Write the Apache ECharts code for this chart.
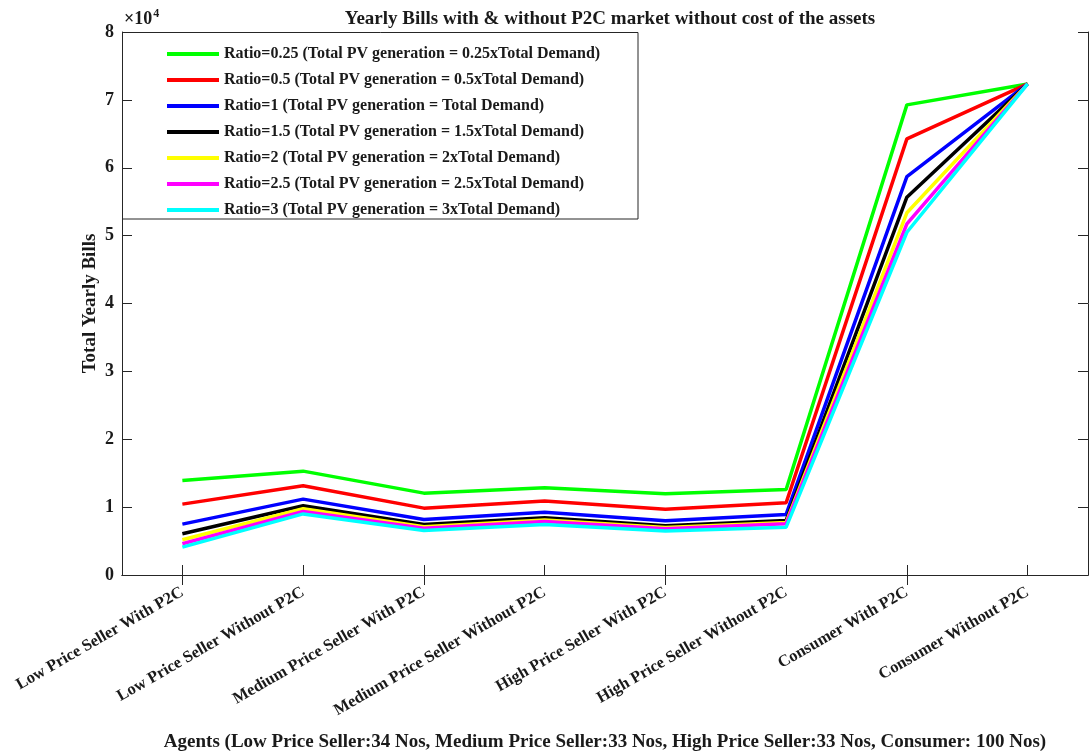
<!DOCTYPE html>
<html>
<head>
<meta charset="utf-8">
<script src="https://cdn.jsdelivr.net/npm/echarts@6/dist/echarts.min.js"></script>
<style>
  html, body { margin: 0; padding: 0; background: #fff; }
  #chart { width: 1089px; height: 751px; }
</style>
</head>
<body>
<div id="chart"></div>
<script>
// Agent categories along the x axis
const categories = [
  'Low Price Seller With P2C',
  'Low Price Seller Without P2C',
  'Medium Price Seller With P2C',
  'Medium Price Seller Without P2C',
  'High Price Seller With P2C',
  'High Price Seller Without P2C',
  'Consumer With P2C',
  'Consumer Without P2C'
];

// Yearly bills per PV-generation ratio
const ratio025 = [13930, 15300, 12060, 12860, 11970, 12600, 69260, 72350];
const ratio05  = [10440, 13150,  9850, 10890,  9700, 10650, 64260, 72350];
const ratio1   = [ 7500, 11180,  8190,  9260,  8000,  8920, 58700, 72350];
const ratio15  = [ 6080, 10200,  7450,  8440,  7260,  8040, 55660, 72350];
const ratio2   = [ 5200,  9760,  7100,  8100,  7000,  7750, 53360, 72350];
const ratio25  = [ 4600,  9370,  6900,  7900,  6800,  7550, 51740, 72350];
const ratio3   = [ 4100,  9000,  6570,  7450,  6470,  7050, 50500, 72350];

const seriesNames = [
  'Ratio=0.25 (Total PV generation = 0.25xTotal Demand)',
  'Ratio=0.5 (Total PV generation = 0.5xTotal Demand)',
  'Ratio=1 (Total PV generation = Total Demand)',
  'Ratio=1.5 (Total PV generation = 1.5xTotal Demand)',
  'Ratio=2 (Total PV generation = 2xTotal Demand)',
  'Ratio=2.5 (Total PV generation = 2.5xTotal Demand)',
  'Ratio=3 (Total PV generation = 3xTotal Demand)'
];
const seriesData = [ratio025, ratio05, ratio1, ratio15, ratio2, ratio25, ratio3];
const seriesColors = ['#00ff00', '#ff0000', '#0000ff', '#000000', '#ffff00', '#ff00ff', '#00ffff'];

// y tick labels (in units of 10^4)
const yTickLabels = ['0', '1', '2', '3', '4', '5', '6', '7', '8'];

const FONT = '"Liberation Serif", "Times New Roman", serif';
const AXIS = '#262626';
const TEXT = '#1a1a1a';

const chart = echarts.init(document.getElementById('chart'), null, { renderer: 'canvas' });

const tickStyle = { show: true, inside: true, length: 10, lineStyle: { color: AXIS, width: 1 } };
const lineStyleAxis = { show: true, lineStyle: { color: AXIS, width: 1 } };

chart.setOption({
  animation: false,
  backgroundColor: '#ffffff',
  title: {
    text: 'Yearly Bills with & without P2C market without cost of the assets',
    left: 605,
    textAlign: 'center',
    top: 5,
    textStyle: { fontFamily: FONT, fontWeight: 'bold', fontSize: 19, color: TEXT }
  },
  grid: { left: 122, right: 1, top: 32, bottom: 176, containLabel: false, outerBoundsMode: 'none' },
  legend: {
    orient: 'vertical',
    left: 162,
    top: 40,
    itemWidth: 52,
    itemHeight: 4,
    itemGap: 8,
    icon: 'rect',
    data: seriesNames,
    textStyle: { fontFamily: FONT, fontWeight: 'bold', fontSize: 16, color: TEXT, lineHeight: 18 }
  },
  xAxis: [
    {
      type: 'category',
      data: categories,
      boundaryGap: true,
      axisLine: lineStyleAxis,
      axisTick: Object.assign({ alignWithLabel: true }, tickStyle),
      splitLine: { show: false },
      axisLabel: {
        rotate: 30,
        margin: 16,
        interval: 0,
        fontFamily: FONT, fontWeight: 'bold', fontSize: 16.5, color: TEXT
      },
      name: 'Agents (Low Price Seller:34 Nos, Medium Price Seller:33 Nos, High Price Seller:33 Nos, Consumer: 100 Nos)',
      nameLocation: 'middle',
      nameGap: 158,
      nameMoveOverlap: false,
      nameTextStyle: { fontFamily: FONT, fontWeight: 'bold', fontSize: 19, color: TEXT }
    },
    {
      type: 'category',
      data: categories,
      position: 'top',
      boundaryGap: true,
      axisLine: lineStyleAxis,
      axisTick: Object.assign({ alignWithLabel: true }, tickStyle),
      splitLine: { show: false },
      axisLabel: { show: false }
    }
  ],
  yAxis: [
    {
      type: 'value',
      min: 0, max: 80000, interval: 10000,
      axisLine: lineStyleAxis,
      axisTick: tickStyle,
      splitLine: { show: false },
      axisLabel: {
        margin: 8,
        fontFamily: FONT, fontWeight: 'bold', fontSize: 18, color: TEXT,
        formatter: (v) => yTickLabels[Math.round(v / 10000)]
      },
      name: 'Total Yearly Bills',
      nameLocation: 'middle',
      nameGap: 22,
      nameMoveOverlap: false,
      nameTextStyle: { fontFamily: FONT, fontWeight: 'bold', fontSize: 19, color: TEXT }
    },
    {
      type: 'value',
      position: 'right',
      min: 0, max: 80000, interval: 10000,
      axisLine: lineStyleAxis,
      axisTick: tickStyle,
      splitLine: { show: false },
      axisLabel: { show: false }
    }
  ],
  graphic: [
    {
      type: 'text',
      left: 124, top: 8,
      style: {
        text: '×10{s|4}',
        font: 'bold 18px ' + FONT,
        fill: TEXT,
        rich: { s: { fontFamily: FONT, fontWeight: 'bold', fontSize: 12, verticalAlign: 'top', padding: [0, 0, 10, 1] } }
      }
    },
    {
      type: 'rect',
      shape: { x: 122.5, y: 32.5, width: 515.5, height: 186.5 },
      style: { fill: 'none', stroke: AXIS, lineWidth: 1 },
      z: 10
    }
  ],
  series: seriesNames.map((name, i) => ({
    name: name,
    type: 'line',
    data: seriesData[i],
    symbol: 'none',
    lineStyle: { width: 3.5, color: seriesColors[i] },
    itemStyle: { color: seriesColors[i] },
    z: 2 + i
  }))
});
</script>
</body>
</html>
